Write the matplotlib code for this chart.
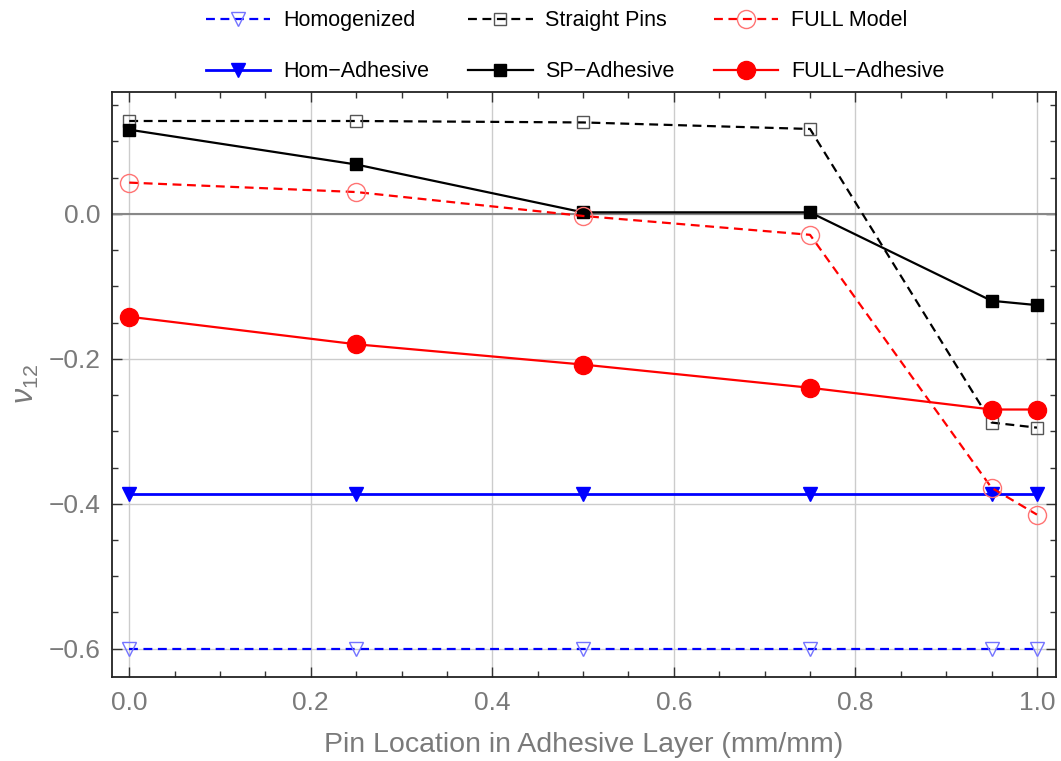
import numpy as np
import matplotlib
matplotlib.use("Agg")
import matplotlib.pyplot as plt
from matplotlib.ticker import MultipleLocator

plt.rcParams['font.family'] = ['Liberation Sans', 'DejaVu Sans']
plt.rcParams['mathtext.fontset'] = 'custom'
plt.rcParams['mathtext.it'] = 'Liberation Sans:italic'
plt.rcParams['mathtext.rm'] = 'Liberation Sans'

# pin location (mm/mm)
x = [0.0, 0.25, 0.5, 0.75, 0.95, 1.0]

homogenized = [-0.6, -0.6, -0.6, -0.6, -0.6, -0.6]
hom_adhesive = [-0.386, -0.386, -0.386, -0.386, -0.386, -0.386]
straight_pins = [0.128, 0.128, 0.126, 0.117, -0.288, -0.295]
sp_adhesive = [0.116, 0.068, 0.002, 0.002, -0.120, -0.126]
full_model = [0.043, 0.030, -0.003, -0.029, -0.378, -0.415]
full_adhesive = [-0.142, -0.180, -0.208, -0.240, -0.270, -0.270]

tick_gray = '#7a7a7a'
dash = (4, 2.5)

fig = plt.figure(figsize=(10.61, 7.61), dpi=100)
ax = fig.add_axes([112 / 1061, 1 - 677 / 761, (1056 - 112) / 1061, (677 - 92) / 761])

h1, = ax.plot(x, homogenized, color='blue', lw=1.6, dashes=dash, marker='v', ms=10,
              mfc='none', mec=(0.45, 0.45, 1.0), mew=1.0, label='Homogenized')
h2, = ax.plot(x, hom_adhesive, '-', color='blue', lw=2.0, marker='v', ms=10,
              mfc='blue', mec='blue', label='Hom\u2212Adhesive')
h3, = ax.plot(x, straight_pins, color='black', lw=1.6, dashes=dash, marker='s', ms=9,
              mfc='none', mec='#555555', mew=1.0, label='Straight Pins')
h4, = ax.plot(x, sp_adhesive, '-', color='black', lw=1.6, marker='s', ms=9,
              mfc='black', mec='black', label='SP\u2212Adhesive')
h5, = ax.plot(x, full_model, color='red', lw=1.6, dashes=dash, marker='o', ms=13,
              mfc='none', mec=(1.0, 0.45, 0.45), mew=1.0, label='FULL Model')
h6, = ax.plot(x, full_adhesive, '-', color='red', lw=1.6, marker='o', ms=13,
              mfc='red', mec='red', label='FULL\u2212Adhesive')

ax.axhline(0, color='#888888', lw=1.5, zorder=1)

ax.set_xlim(-0.019, 1.021)
ax.set_ylim(-0.639, 0.168)
ax.xaxis.set_major_locator(MultipleLocator(0.2))
ax.xaxis.set_minor_locator(MultipleLocator(0.05))
ax.yaxis.set_major_locator(MultipleLocator(0.2))
ax.yaxis.set_minor_locator(MultipleLocator(0.05))
ax.grid(True, which='major', color='#cccccc', lw=1.0, zorder=0)
ax.set_axisbelow(True)

ax.tick_params(which='both', direction='in', top=True, right=True,
               colors='#333333', labelcolor=tick_gray, labelsize=19)
ax.tick_params(which='major', length=7, width=1)
ax.tick_params(which='minor', length=4, width=1)
ax.tick_params(axis='x', pad=10)
ax.tick_params(axis='y', pad=8)
ax.xaxis.set_major_formatter(plt.FuncFormatter(lambda v, p: f'{v:.1f}'.replace('-', '\u2212')))
ax.yaxis.set_major_formatter(plt.FuncFormatter(lambda v, p: f'{v:.1f}'.replace('-', '\u2212')))
for s in ax.spines.values():
    s.set_color('#222222')
    s.set_linewidth(1.3)

ax.set_xlabel('Pin Location in Adhesive Layer (mm/mm)', color=tick_gray, fontsize=20.5, labelpad=12)
ax.set_ylabel(r'$\nu_{12}$', color=tick_gray, fontsize=22, labelpad=6)

fig.legend(handles=[h1, h2, h3, h4, h5, h6], ncol=3, loc='upper center',
           bbox_to_anchor=(0.542, 1.012), frameon=False, fontsize=15.5,
           handlelength=3.0, labelspacing=1.4, columnspacing=1.8, handletextpad=0.6)

plt.savefig('out.png', dpi=100)
